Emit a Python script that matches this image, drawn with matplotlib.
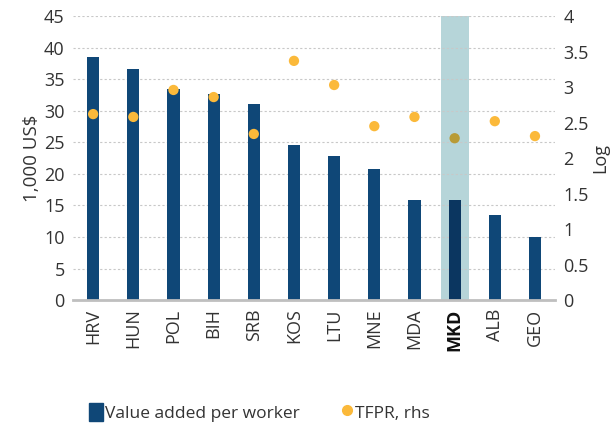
import numpy as np
import matplotlib
matplotlib.use("Agg")
import matplotlib.pyplot as plt
from matplotlib.lines import Line2D
from matplotlib.patches import Patch

countries = ["HRV", "HUN", "POL", "BIH", "SRB", "KOS", "LTU", "MNE", "MDA", "MKD", "ALB", "GEO"]
value_added = [38.5, 36.6, 33.5, 32.7, 31.1, 24.6, 22.8, 20.8, 15.9, 15.9, 13.5, 10.0]
tfpr = [2.62, 2.58, 2.96, 2.86, 2.34, 3.37, 3.03, 2.45, 2.58, 2.28, 2.52, 2.31]
highlight = "MKD"

plt.rcParams['font.family'] = ['Open Sans', 'DejaVu Sans']
navy = '#0f4777'
gold = '#fbb93a'
txt = '#333333'

fig = plt.figure(figsize=(6.14, 4.25), dpi=100)
ax = fig.add_axes([0.119, 0.294, 0.785, 0.668])
ax2 = ax.twinx()

x = np.arange(len(countries))
hi = countries.index(highlight)
bar_colors = [navy] * len(countries)
bar_colors[hi] = '#0b3660'
dot_colors = [gold] * len(countries)
dot_colors[hi] = '#b89b36'

ax.axvspan(hi - 0.35, hi + 0.35, ymin=0, ymax=1, color='#b6d5d9', zorder=0, lw=0)
ax.bar(x, value_added, width=0.3, color=bar_colors, zorder=2)
ax2.scatter(x, tfpr, s=55, color=dot_colors, zorder=3, lw=0)

ax.set_xlim(-0.5, len(countries) - 0.5)
ax.set_ylim(0, 45)
ax.set_yticks(np.arange(0, 46, 5))
ax2.set_ylim(0, 4)
ax2.set_yticks(np.arange(0, 4.01, 0.5))
ax2.set_yticklabels(["0", "0.5", "1", "1.5", "2", "2.5", "3", "3.5", "4"])

ax.yaxis.grid(True, linestyle=(0, (2, 2)), color='#c8c8c8', lw=0.8)
ax.set_axisbelow(True)

for a in (ax, ax2):
    for s in ('top', 'right', 'left', 'bottom'):
        a.spines[s].set_visible(False)
    a.tick_params(length=0, labelsize=13, colors=txt, pad=6)
ax.spines['bottom'].set_visible(True)
ax.spines['bottom'].set_color('#bfbfbf')
ax.spines['bottom'].set_linewidth(2)

ax.set_xticks(x)
ax.set_xticklabels(countries, rotation=90)
for lbl in ax.get_xticklabels():
    if lbl.get_text() == highlight:
        lbl.set_fontweight('bold')
        lbl.set_color('#111111')

ax.set_ylabel("1,000 US$", fontsize=13.5, color=txt, labelpad=2)
ax2.set_ylabel("Log", fontsize=13, color=txt, labelpad=2)

handles = [Patch(color=navy, label="Value added per worker"),
           Line2D([], [], marker='o', ls='', color=gold, markersize=7, label="TFPR, rhs")]
fig.legend(handles=handles, loc='center', bbox_to_anchor=(0.423, 0.03), ncol=2,
           frameon=False, fontsize=12.5, handlelength=0.8, handleheight=1.25,
           handletextpad=0.1, columnspacing=2.3, labelcolor=txt)

fig.savefig("out.png", dpi=100)
